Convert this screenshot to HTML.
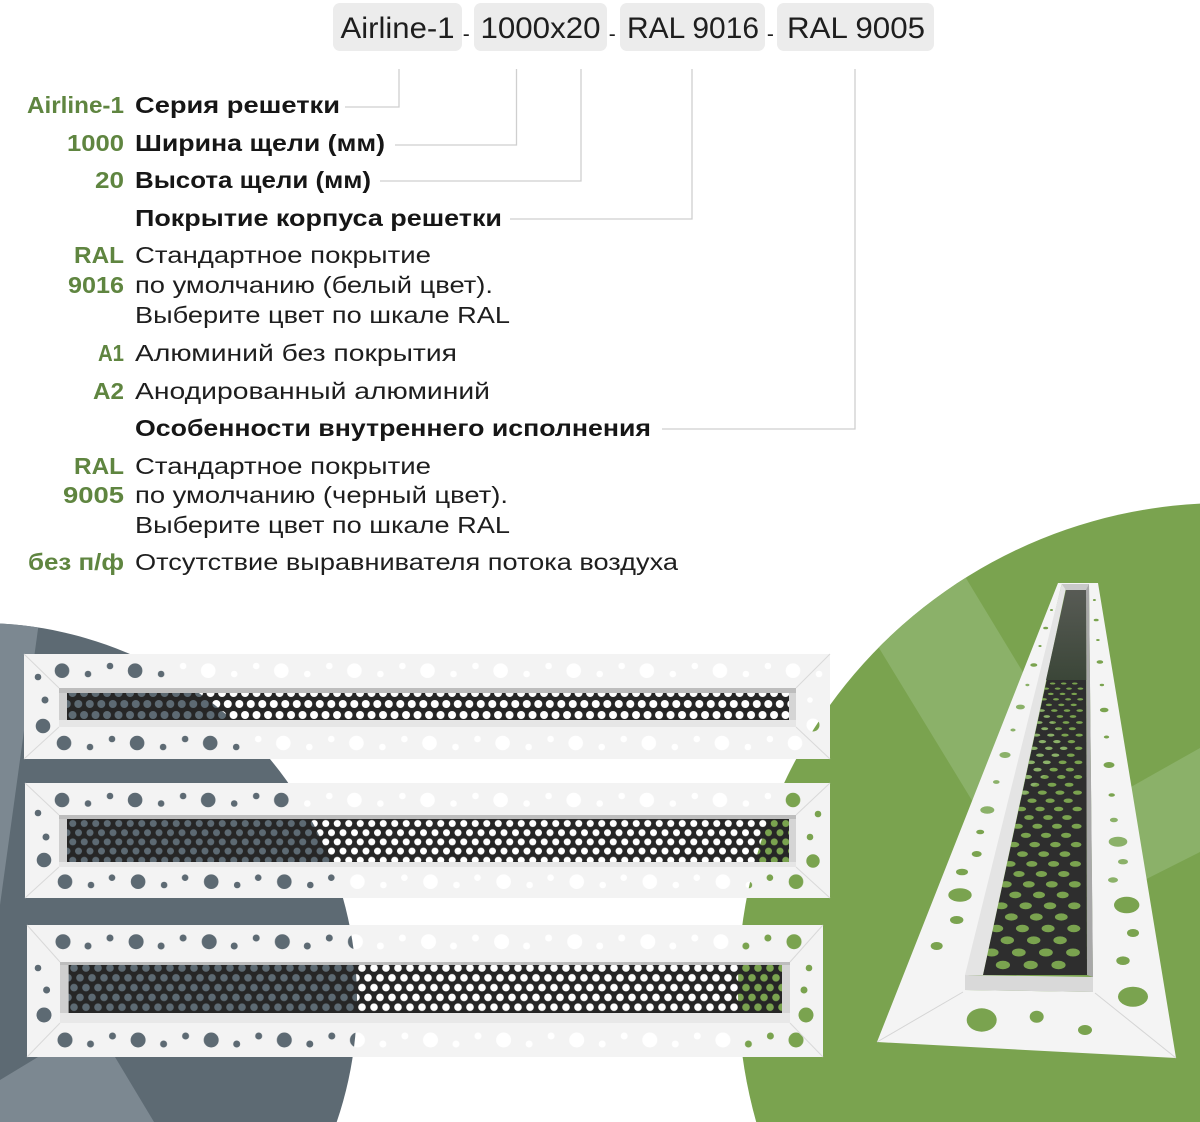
<!DOCTYPE html>
<html><head><meta charset="utf-8"><style>
html,body{margin:0;padding:0;background:#fff;width:1200px;height:1122px;overflow:hidden;}
svg{display:block;}
</style></head><body>
<svg width="1200" height="1122" viewBox="0 0 1200 1122" xmlns="http://www.w3.org/2000/svg">
<defs>
 <clipPath id="cg"><path d="M1200,503.6 A487,487 0 0,0 756.2,1122 L1200,1122 Z"/></clipPath>
 <clipPath id="cgr"><path d="M0,623.5 A377,377 0 0,1 336.7,1122 L0,1122 Z"/></clipPath>
 <linearGradient id="upg" x1="0" y1="0" x2="0" y2="1"><stop offset="0" stop-color="#585b55"/><stop offset="1" stop-color="#3b4638"/></linearGradient>
 <pattern id="t1" patternUnits="userSpaceOnUse" x="42" y="654" width="73.1" height="34"><circle cx="20" cy="16.7" r="7.3"/><circle cx="46" cy="20" r="3.3"/><circle cx="68" cy="12" r="3.3"/></pattern>
 <pattern id="b1" patternUnits="userSpaceOnUse" x="44" y="728" width="73.1" height="31"><circle cx="20" cy="15" r="7.3"/><circle cx="46" cy="19" r="3.3"/><circle cx="68" cy="11" r="3.3"/></pattern>
 <pattern id="t2" patternUnits="userSpaceOnUse" x="42" y="783" width="73.1" height="32"><circle cx="20" cy="17" r="7.3"/><circle cx="46" cy="20.5" r="3.3"/><circle cx="68" cy="13" r="3.3"/></pattern>
 <pattern id="b2" patternUnits="userSpaceOnUse" x="45" y="866" width="73.1" height="32"><circle cx="20" cy="15.7" r="7.3"/><circle cx="46" cy="19" r="3.3"/><circle cx="67" cy="11.7" r="3.3"/></pattern>
 <pattern id="t3" patternUnits="userSpaceOnUse" x="43" y="925" width="73.1" height="35"><circle cx="20" cy="16.7" r="7.5"/><circle cx="45" cy="21" r="3.5"/><circle cx="67" cy="13" r="3.5"/></pattern>
 <pattern id="b3" patternUnits="userSpaceOnUse" x="45" y="1024" width="73.1" height="33"><circle cx="20" cy="16" r="7.5"/><circle cx="45.5" cy="20" r="3.5"/><circle cx="67.5" cy="12" r="3.5"/></pattern>
 <pattern id="p1" patternUnits="userSpaceOnUse" x="72.55" y="698.5" width="11.5" height="22"><circle cx="5.75" cy="5.5" r="4"/><circle cx="0" cy="16.5" r="4"/><circle cx="11.5" cy="16.5" r="4"/></pattern>
 <pattern id="p2" patternUnits="userSpaceOnUse" x="67" y="818.9" width="11.5" height="18.4"><circle cx="5.75" cy="4.6" r="3.5"/><circle cx="0" cy="13.8" r="3.5"/><circle cx="11.5" cy="13.8" r="3.5"/></pattern>
 <pattern id="p3" patternUnits="userSpaceOnUse" x="68" y="963.1" width="12" height="19.6"><circle cx="6" cy="4.9" r="3.8"/><circle cx="0" cy="14.7" r="3.8"/><circle cx="12" cy="14.7" r="3.8"/></pattern>

 <mask id="mf1" maskUnits="userSpaceOnUse" x="0" y="0" width="1200" height="1122">
  <rect x="24" y="654" width="806" height="105" fill="#fff"/>
  <rect x="42" y="654" width="785" height="34" fill="url(#t1)"/>
  <rect x="44" y="728" width="762" height="31" fill="url(#b1)"/>
  <rect x="67" y="693" width="722" height="27" fill="#000"/>
  <circle cx="38" cy="677" r="3.3"/><circle cx="45" cy="700" r="3.5"/><circle cx="43" cy="726" r="7.3"/>
  <circle cx="810" cy="700" r="2.8"/><circle cx="813" cy="725" r="6.5"/>
 </mask>
 <mask id="mp1" maskUnits="userSpaceOnUse" x="0" y="0" width="1200" height="1122">
  <rect x="67" y="693" width="722" height="27" fill="#fff"/>
  <rect x="67" y="693" width="722" height="27" fill="url(#p1)"/>
 </mask>
 <mask id="mf2" maskUnits="userSpaceOnUse" x="0" y="0" width="1200" height="1122">
  <rect x="25" y="783" width="805" height="115" fill="#fff"/>
  <rect x="42" y="783" width="763" height="32" fill="url(#t2)"/>
  <rect x="45" y="866" width="762" height="32" fill="url(#b2)"/>
  <rect x="67" y="819" width="722" height="43" fill="#000"/>
  <circle cx="38" cy="813" r="3.3"/><circle cx="46" cy="837" r="3.5"/><circle cx="44" cy="860" r="7.3"/>
  <circle cx="818" cy="814" r="3.3"/><circle cx="810" cy="837" r="3.3"/><circle cx="813" cy="861" r="6.7"/>
 </mask>
 <mask id="mp2" maskUnits="userSpaceOnUse" x="0" y="0" width="1200" height="1122">
  <rect x="67" y="819" width="722" height="43" fill="#fff"/>
  <rect x="67" y="819" width="722" height="43" fill="url(#p2)"/>
 </mask>
 <mask id="mf3" maskUnits="userSpaceOnUse" x="0" y="0" width="1200" height="1122">
  <rect x="27" y="925" width="796" height="132" fill="#fff"/>
  <rect x="43" y="925" width="762" height="35" fill="url(#t3)"/>
  <rect x="45" y="1024" width="760" height="33" fill="url(#b3)"/>
  <rect x="68.6" y="965" width="713.4" height="48" fill="#000"/>
  <circle cx="38" cy="968" r="3.3"/><circle cx="46.6" cy="990" r="3.5"/><circle cx="44" cy="1015" r="7.5"/>
  <circle cx="809" cy="968" r="3.3"/><circle cx="804" cy="990" r="3.5"/><circle cx="806" cy="1015" r="7.5"/>
 </mask>
 <mask id="mp3" maskUnits="userSpaceOnUse" x="0" y="0" width="1200" height="1122">
  <rect x="68.6" y="965" width="713.4" height="48" fill="#fff"/>
  <rect x="68.6" y="965" width="713.4" height="48" fill="url(#p3)"/>
 </mask>
 <mask id="mfr" maskUnits="userSpaceOnUse" x="0" y="0" width="1200" height="1122">
  <rect x="0" y="0" width="1200" height="1122" fill="#fff"/>
  <g fill="#000">
   <ellipse cx="1051.5" cy="610" rx="1.5" ry="1"/>
   <ellipse cx="1045.7" cy="628" rx="2.5" ry="1.3"/>
   <ellipse cx="1040" cy="646" rx="1.6" ry="1"/>
   <ellipse cx="1033.8" cy="665" rx="3.5" ry="1.8"/>
   <ellipse cx="1027.4" cy="685" rx="2" ry="1.2"/>
   <ellipse cx="1020.4" cy="707" rx="4.5" ry="2.4"/>
   <ellipse cx="1013" cy="730" rx="2.6" ry="1.5"/>
   <ellipse cx="1005" cy="755" rx="5.6" ry="3"/>
   <ellipse cx="996.3" cy="782" rx="3.3" ry="1.9"/>
   <ellipse cx="987.3" cy="810" rx="7" ry="3.8"/>
   <ellipse cx="980.2" cy="832" rx="4" ry="2.3"/>
   <ellipse cx="976.7" cy="854" rx="5" ry="3"/>
   <ellipse cx="962" cy="872" rx="6" ry="3.3"/>
   <ellipse cx="960" cy="895" rx="11.7" ry="6.7"/>
   <ellipse cx="956.7" cy="920" rx="6.7" ry="4"/>
   <ellipse cx="936.7" cy="946" rx="6" ry="4"/>
   <ellipse cx="1094.4" cy="600" rx="1.5" ry="1"/>
   <ellipse cx="1096.2" cy="620" rx="2.5" ry="1.3"/>
   <ellipse cx="1097.9" cy="640" rx="1.8" ry="1"/>
   <ellipse cx="1099.9" cy="662" rx="3.3" ry="1.8"/>
   <ellipse cx="1101.9" cy="685" rx="2.2" ry="1.2"/>
   <ellipse cx="1104.2" cy="710" rx="4.3" ry="2.3"/>
   <ellipse cx="1106.5" cy="737" rx="2.7" ry="1.5"/>
   <ellipse cx="1109" cy="765" rx="5.5" ry="3"/>
   <ellipse cx="1111.7" cy="795" rx="3.2" ry="1.8"/>
   <ellipse cx="1113.9" cy="820" rx="4" ry="2.3"/>
   <ellipse cx="1118" cy="841.7" rx="9.3" ry="5"/>
   <ellipse cx="1123" cy="861.7" rx="5" ry="2.7"/>
   <ellipse cx="1113" cy="880" rx="5" ry="2.7"/>
   <ellipse cx="1126.7" cy="905" rx="12.7" ry="8.3"/>
   <ellipse cx="1133" cy="933" rx="6" ry="4"/>
   <ellipse cx="1123" cy="960.7" rx="6.7" ry="4.3"/>
   <ellipse cx="1133" cy="996.7" rx="15" ry="10"/>
   <ellipse cx="981.7" cy="1020" rx="15" ry="11.7"/>
   <ellipse cx="1036.7" cy="1016.7" rx="7" ry="6"/>
   <ellipse cx="1085" cy="1030" rx="7" ry="5"/>
  </g>
 </mask>
 <mask id="mpr" maskUnits="userSpaceOnUse" x="0" y="0" width="1200" height="1122">
  <polygon points="1066,590 1086,590 1087,975 983,975" fill="#fff"/>
  <g fill="#000">
   <ellipse cx="1002.9" cy="965" rx="7.1" ry="4.2"/><ellipse cx="1030.7" cy="965" rx="7.1" ry="4.2"/><ellipse cx="1058.5" cy="965" rx="7.1" ry="4.2"/>
   <ellipse cx="991.7" cy="952.5" rx="6.9" ry="4"/><ellipse cx="1018.8" cy="952.5" rx="6.9" ry="4"/><ellipse cx="1045.9" cy="952.5" rx="6.9" ry="4"/><ellipse cx="1073" cy="952.5" rx="6.9" ry="4"/>
   <ellipse cx="1007.3" cy="940.3" rx="6.7" ry="3.9"/><ellipse cx="1033.7" cy="940.3" rx="6.7" ry="3.9"/><ellipse cx="1060.1" cy="940.3" rx="6.7" ry="3.9"/>
   <ellipse cx="996.7" cy="928.5" rx="6.5" ry="3.7"/><ellipse cx="1022.4" cy="928.5" rx="6.5" ry="3.7"/><ellipse cx="1048.1" cy="928.5" rx="6.5" ry="3.7"/><ellipse cx="1073.8" cy="928.5" rx="6.5" ry="3.7"/>
   <ellipse cx="1011.3" cy="917" rx="6.4" ry="3.6"/><ellipse cx="1036.3" cy="917" rx="6.4" ry="3.6"/><ellipse cx="1061.3" cy="917" rx="6.4" ry="3.6"/>
   <ellipse cx="1001.4" cy="905.8" rx="6.2" ry="3.4"/><ellipse cx="1025.7" cy="905.8" rx="6.2" ry="3.4"/><ellipse cx="1050" cy="905.8" rx="6.2" ry="3.4"/><ellipse cx="1074.3" cy="905.8" rx="6.2" ry="3.4"/>
   <ellipse cx="1015.3" cy="894.9" rx="6" ry="3.3"/><ellipse cx="1039" cy="894.9" rx="6" ry="3.3"/><ellipse cx="1062.7" cy="894.9" rx="6" ry="3.3"/>
   <ellipse cx="1005.8" cy="884.3" rx="5.9" ry="3.2"/><ellipse cx="1028.8" cy="884.3" rx="5.9" ry="3.2"/><ellipse cx="1051.8" cy="884.3" rx="5.9" ry="3.2"/><ellipse cx="1074.8" cy="884.3" rx="5.9" ry="3.2"/>
   <ellipse cx="1019" cy="874" rx="5.7" ry="3"/><ellipse cx="1041.4" cy="874" rx="5.7" ry="3"/><ellipse cx="1063.8" cy="874" rx="5.7" ry="3"/>
   <ellipse cx="1010" cy="863.9" rx="5.6" ry="2.9"/><ellipse cx="1031.8" cy="863.9" rx="5.6" ry="2.9"/><ellipse cx="1053.6" cy="863.9" rx="5.6" ry="2.9"/><ellipse cx="1075.4" cy="863.9" rx="5.6" ry="2.9"/>
   <ellipse cx="1022.5" cy="854.1" rx="5.4" ry="2.8"/><ellipse cx="1043.7" cy="854.1" rx="5.4" ry="2.8"/><ellipse cx="1064.9" cy="854.1" rx="5.4" ry="2.8"/>
   <ellipse cx="1014" cy="844.6" rx="5.3" ry="2.7"/><ellipse cx="1034.7" cy="844.6" rx="5.3" ry="2.7"/><ellipse cx="1055.4" cy="844.6" rx="5.3" ry="2.7"/><ellipse cx="1076.1" cy="844.6" rx="5.3" ry="2.7"/>
   <ellipse cx="1025.9" cy="835.3" rx="5.1" ry="2.6"/><ellipse cx="1046" cy="835.3" rx="5.1" ry="2.6"/><ellipse cx="1066.1" cy="835.3" rx="5.1" ry="2.6"/>
   <ellipse cx="1017.8" cy="826.3" rx="5" ry="2.5"/><ellipse cx="1037.4" cy="826.3" rx="5" ry="2.5"/><ellipse cx="1057" cy="826.3" rx="5" ry="2.5"/><ellipse cx="1076.6" cy="826.3" rx="5" ry="2.5"/>
   <ellipse cx="1029" cy="817.5" rx="4.8" ry="2.4"/><ellipse cx="1048" cy="817.5" rx="4.8" ry="2.4"/><ellipse cx="1067" cy="817.5" rx="4.8" ry="2.4"/>
   <ellipse cx="1021.4" cy="809" rx="4.7" ry="2.3"/><ellipse cx="1040" cy="809" rx="4.7" ry="2.3"/><ellipse cx="1058.6" cy="809" rx="4.7" ry="2.3"/><ellipse cx="1077.2" cy="809" rx="4.7" ry="2.3"/>
   <ellipse cx="1032" cy="800.7" rx="4.6" ry="2.2"/><ellipse cx="1050.1" cy="800.7" rx="4.6" ry="2.2"/><ellipse cx="1068.2" cy="800.7" rx="4.6" ry="2.2"/>
   <ellipse cx="1024.7" cy="792.6" rx="4.5" ry="2.1"/><ellipse cx="1042.3" cy="792.6" rx="4.5" ry="2.1"/><ellipse cx="1059.9" cy="792.6" rx="4.5" ry="2.1"/><ellipse cx="1077.5" cy="792.6" rx="4.5" ry="2.1"/>
   <ellipse cx="1034.9" cy="784.7" rx="4.4" ry="2"/><ellipse cx="1052" cy="784.7" rx="4.4" ry="2"/><ellipse cx="1069.1" cy="784.7" rx="4.4" ry="2"/>
   <ellipse cx="1027.9" cy="777" rx="4.2" ry="1.95"/><ellipse cx="1044.6" cy="777" rx="4.2" ry="1.95"/><ellipse cx="1061.3" cy="777" rx="4.2" ry="1.95"/><ellipse cx="1078" cy="777" rx="4.2" ry="1.95"/>
   <ellipse cx="1037.5" cy="769.6" rx="4.1" ry="1.9"/><ellipse cx="1053.7" cy="769.6" rx="4.1" ry="1.9"/><ellipse cx="1069.9" cy="769.6" rx="4.1" ry="1.9"/>
   <ellipse cx="1031" cy="762.3" rx="4" ry="1.8"/><ellipse cx="1046.8" cy="762.3" rx="4" ry="1.8"/><ellipse cx="1062.6" cy="762.3" rx="4" ry="1.8"/><ellipse cx="1078.4" cy="762.3" rx="4" ry="1.8"/>
   <ellipse cx="1040" cy="755.2" rx="3.9" ry="1.7"/><ellipse cx="1055.4" cy="755.2" rx="3.9" ry="1.7"/><ellipse cx="1070.8" cy="755.2" rx="3.9" ry="1.7"/>
   <ellipse cx="1033.9" cy="748.3" rx="3.8" ry="1.65"/><ellipse cx="1048.8" cy="748.3" rx="3.8" ry="1.65"/><ellipse cx="1063.7" cy="748.3" rx="3.8" ry="1.65"/><ellipse cx="1078.6" cy="748.3" rx="3.8" ry="1.65"/>
   <ellipse cx="1042.4" cy="741.6" rx="3.7" ry="1.6"/><ellipse cx="1056.9" cy="741.6" rx="3.7" ry="1.6"/><ellipse cx="1071.4" cy="741.6" rx="3.7" ry="1.6"/>
   <ellipse cx="1036.6" cy="735.1" rx="3.6" ry="1.5"/><ellipse cx="1050.8" cy="735.1" rx="3.6" ry="1.5"/><ellipse cx="1065" cy="735.1" rx="3.6" ry="1.5"/><ellipse cx="1079.2" cy="735.1" rx="3.6" ry="1.5"/>
   <ellipse cx="1044.7" cy="728.7" rx="3.5" ry="1.45"/><ellipse cx="1058.5" cy="728.7" rx="3.5" ry="1.45"/><ellipse cx="1072.3" cy="728.7" rx="3.5" ry="1.45"/>
   <ellipse cx="1039.2" cy="722.5" rx="3.4" ry="1.4"/><ellipse cx="1052.6" cy="722.5" rx="3.4" ry="1.4"/><ellipse cx="1066" cy="722.5" rx="3.4" ry="1.4"/><ellipse cx="1079.4" cy="722.5" rx="3.4" ry="1.4"/>
   <ellipse cx="1046.8" cy="716.5" rx="3.3" ry="1.35"/><ellipse cx="1059.9" cy="716.5" rx="3.3" ry="1.35"/><ellipse cx="1073" cy="716.5" rx="3.3" ry="1.35"/>
   <ellipse cx="1041.6" cy="710.6" rx="3.2" ry="1.3"/><ellipse cx="1054.3" cy="710.6" rx="3.2" ry="1.3"/><ellipse cx="1067" cy="710.6" rx="3.2" ry="1.3"/><ellipse cx="1079.7" cy="710.6" rx="3.2" ry="1.3"/>
   <ellipse cx="1048.9" cy="704.9" rx="3.1" ry="1.25"/><ellipse cx="1061.3" cy="704.9" rx="3.1" ry="1.25"/><ellipse cx="1073.7" cy="704.9" rx="3.1" ry="1.25"/>
   <ellipse cx="1043.9" cy="699.3" rx="3" ry="1.2"/><ellipse cx="1056" cy="699.3" rx="3" ry="1.2"/><ellipse cx="1068.1" cy="699.3" rx="3" ry="1.2"/><ellipse cx="1080.2" cy="699.3" rx="3" ry="1.2"/>
   <ellipse cx="1050.8" cy="693.9" rx="2.9" ry="1.15"/><ellipse cx="1062.5" cy="693.9" rx="2.9" ry="1.15"/><ellipse cx="1074.2" cy="693.9" rx="2.9" ry="1.15"/>
   <ellipse cx="1046.2" cy="688.6" rx="2.9" ry="1.1"/><ellipse cx="1057.6" cy="688.6" rx="2.9" ry="1.1"/><ellipse cx="1069" cy="688.6" rx="2.9" ry="1.1"/><ellipse cx="1080.4" cy="688.6" rx="2.9" ry="1.1"/>
   <ellipse cx="1052.6" cy="683.5" rx="2.8" ry="1.05"/><ellipse cx="1063.7" cy="683.5" rx="2.8" ry="1.05"/><ellipse cx="1074.8" cy="683.5" rx="2.8" ry="1.05"/>
  </g>
 </mask>
</defs>

<rect x="0" y="0" width="1200" height="1122" fill="#fff"/>

<path d="M0,623.5 A377,377 0 0,1 336.7,1122 L0,1122 Z" fill="#5d6a73"/>
<g clip-path="url(#cgr)" fill="#7c8891">
 <polygon points="0,600 42,600 0,905"/>
 <polygon points="0,1080 38,1057 115,1057 154,1122 0,1122"/>
</g>
<path d="M1200,503.6 A487,487 0 0,0 756.2,1122 L1200,1122 Z" fill="#7aa34f"/>
<g clip-path="url(#cg)" fill="#8bb169">
 <polygon points="865,625 955,560 1070,750 990,830"/>
 <polygon points="1090,810 1200,748 1200,852 1095,905"/>
</g>

<g fill="#ececec">
 <rect x="333" y="3" width="129" height="48" rx="7"/>
 <rect x="474" y="3" width="133" height="48" rx="7"/>
 <rect x="620" y="3" width="145" height="48" rx="7"/>
 <rect x="777" y="3" width="157" height="48" rx="7"/>
</g>
<g font-family="Liberation Sans, sans-serif" font-size="30" fill="#1e1e1e">
 <text x="340.5" y="38" textLength="114" lengthAdjust="spacingAndGlyphs">Airline-1</text>
 <text x="480.5" y="38" textLength="120" lengthAdjust="spacingAndGlyphs">1000x20</text>
 <text x="627" y="38" textLength="132" lengthAdjust="spacingAndGlyphs">RAL 9016</text>
 <text x="787" y="38" textLength="138" lengthAdjust="spacingAndGlyphs">RAL 9005</text>
</g>
<g font-family="Liberation Sans, sans-serif" font-size="21" fill="#1e1e1e" text-anchor="middle">
 <text x="466.3" y="41">-</text>
 <text x="612.2" y="41">-</text>
 <text x="770.4" y="41">-</text>
</g>

<g fill="none" stroke="#cfcfcf" stroke-width="1.3">
 <polyline points="345,107 399,107 399,69"/>
 <polyline points="395,145 516.5,145 516.5,69"/>
 <polyline points="380,181 581,181 581,69"/>
 <polyline points="510,219 692,219 692,69"/>
 <polyline points="662,429 855,429 855,69"/>
</g>

<g font-family="Liberation Sans, sans-serif" font-size="23" font-weight="bold" fill="#5f8540" text-anchor="end">
 <text x="124" y="113" textLength="97" lengthAdjust="spacingAndGlyphs">Airline-1</text>
 <text x="124" y="151" textLength="57" lengthAdjust="spacingAndGlyphs">1000</text>
 <text x="124" y="188" textLength="29" lengthAdjust="spacingAndGlyphs">20</text>
 <text x="124" y="263" textLength="50" lengthAdjust="spacingAndGlyphs">RAL</text>
 <text x="124" y="293" textLength="56" lengthAdjust="spacingAndGlyphs">9016</text>
 <text x="124" y="361" textLength="26" lengthAdjust="spacingAndGlyphs">A1</text>
 <text x="124" y="399" textLength="31" lengthAdjust="spacingAndGlyphs">A2</text>
 <text x="124" y="474" textLength="50" lengthAdjust="spacingAndGlyphs">RAL</text>
 <text x="124" y="503" textLength="61" lengthAdjust="spacingAndGlyphs">9005</text>
 <text x="124" y="570" textLength="96" lengthAdjust="spacingAndGlyphs">без п/ф</text>
</g>
<g font-family="Liberation Sans, sans-serif" font-size="23" font-weight="bold" fill="#161616">
 <text x="135" y="113" textLength="205" lengthAdjust="spacingAndGlyphs">Серия решетки</text>
 <text x="135" y="151" textLength="250" lengthAdjust="spacingAndGlyphs">Ширина щели (мм)</text>
 <text x="135" y="188" textLength="236" lengthAdjust="spacingAndGlyphs">Высота щели (мм)</text>
 <text x="135" y="226" textLength="367" lengthAdjust="spacingAndGlyphs">Покрытие корпуса решетки</text>
 <text x="135" y="436" textLength="516" lengthAdjust="spacingAndGlyphs">Особенности внутреннего исполнения</text>
</g>
<g font-family="Liberation Sans, sans-serif" font-size="23" fill="#1e1e1e">
 <text x="135" y="263" textLength="296" lengthAdjust="spacingAndGlyphs">Стандартное покрытие</text>
 <text x="135" y="293" textLength="358" lengthAdjust="spacingAndGlyphs">по умолчанию (белый цвет).</text>
 <text x="135" y="323" textLength="375" lengthAdjust="spacingAndGlyphs">Выберите цвет по шкале RAL</text>
 <text x="135" y="361" textLength="322" lengthAdjust="spacingAndGlyphs">Алюминий без покрытия</text>
 <text x="135" y="399" textLength="355" lengthAdjust="spacingAndGlyphs">Анодированный алюминий</text>
 <text x="135" y="474" textLength="296" lengthAdjust="spacingAndGlyphs">Стандартное покрытие</text>
 <text x="135" y="503" textLength="373" lengthAdjust="spacingAndGlyphs">по умолчанию (черный цвет).</text>
 <text x="135" y="533" textLength="375" lengthAdjust="spacingAndGlyphs">Выберите цвет по шкале RAL</text>
 <text x="135" y="570" textLength="543" lengthAdjust="spacingAndGlyphs">Отсутствие выравнивателя потока воздуха</text>
</g>

<rect x="24" y="654" width="806" height="105" fill="#f3f3f3" mask="url(#mf1)"/>
<g stroke="#d9d9d9" stroke-width="1" fill="none">
 <line x1="24" y1="654" x2="59" y2="688"/><line x1="24" y1="759" x2="59" y2="727"/>
 <line x1="830" y1="654" x2="796" y2="688"/><line x1="830" y1="759" x2="796" y2="727"/>
</g>
<rect x="59" y="688" width="737" height="5" fill="#bdbdbd"/>
<rect x="59" y="720" width="737" height="7" fill="#e6e6e6"/>
<rect x="59" y="693" width="8" height="27" fill="#cfcfcf"/>
<rect x="789" y="693" width="7" height="27" fill="#d5d5d5"/>
<rect x="67" y="693" width="722" height="27" fill="#262626" mask="url(#mp1)"/>

<rect x="25" y="783" width="805" height="115" fill="#f3f3f3" mask="url(#mf2)"/>
<g stroke="#d9d9d9" stroke-width="1" fill="none">
 <line x1="25" y1="783" x2="59" y2="815"/><line x1="25" y1="898" x2="59" y2="867"/>
 <line x1="830" y1="783" x2="796" y2="815"/><line x1="830" y1="898" x2="796" y2="867"/>
</g>
<rect x="59" y="815" width="737" height="4" fill="#bdbdbd"/>
<rect x="59" y="862" width="737" height="5" fill="#e6e6e6"/>
<rect x="59" y="819" width="8" height="43" fill="#cfcfcf"/>
<rect x="789" y="819" width="7" height="43" fill="#d5d5d5"/>
<rect x="67" y="819" width="722" height="43" fill="#262626" mask="url(#mp2)"/>

<rect x="27" y="925" width="796" height="132" fill="#f3f3f3" mask="url(#mf3)"/>
<g stroke="#d9d9d9" stroke-width="1" fill="none">
 <line x1="27" y1="925" x2="60" y2="962"/><line x1="27" y1="1057" x2="60" y2="1023"/>
 <line x1="823" y1="925" x2="790" y2="962"/><line x1="823" y1="1057" x2="790" y2="1023"/>
</g>
<rect x="60" y="962" width="730" height="3" fill="#bdbdbd"/>
<rect x="60" y="1013" width="730" height="10" fill="#e8e8e8"/>
<rect x="60" y="965" width="8.6" height="48" fill="#cfcfcf"/>
<rect x="782" y="965" width="8" height="48" fill="#d5d5d5"/>
<rect x="68.6" y="965" width="713.4" height="48" fill="#262626" mask="url(#mp3)"/>

<path d="M1058,583 L1098,583 L1176,1058 L877,1042 Z M1061.7,584 L1089,584 L1093,992 L965,990 Z" fill="#f4f4f4" fill-rule="evenodd" mask="url(#mfr)"/>
<g stroke="#d5d5d5" stroke-width="1" fill="none">
 <line x1="877" y1="1042" x2="963" y2="992"/>
 <line x1="1176" y1="1058" x2="1095" y2="993"/>
</g>
<polygon points="1061.7,584 1066,588 983,975 965,975" fill="#e4e4e4"/>
<polygon points="1086,588 1089,584 1093,977 1087,975" fill="#a8a8a8"/>
<polygon points="965,975 1093,977 1093,992 965,990" fill="#d9d9d9"/>
<polygon points="1061.7,584 1089,584 1086,590 1066,590" fill="#c9c9c9"/>
<polygon points="1066,590 1086,590 1087,975 983,975" fill="#2e2e2e" mask="url(#mpr)"/>
<polygon points="1066,590 1086,590 1086.2,680 1046,680" fill="url(#upg)"/>
</svg>
</body></html>
